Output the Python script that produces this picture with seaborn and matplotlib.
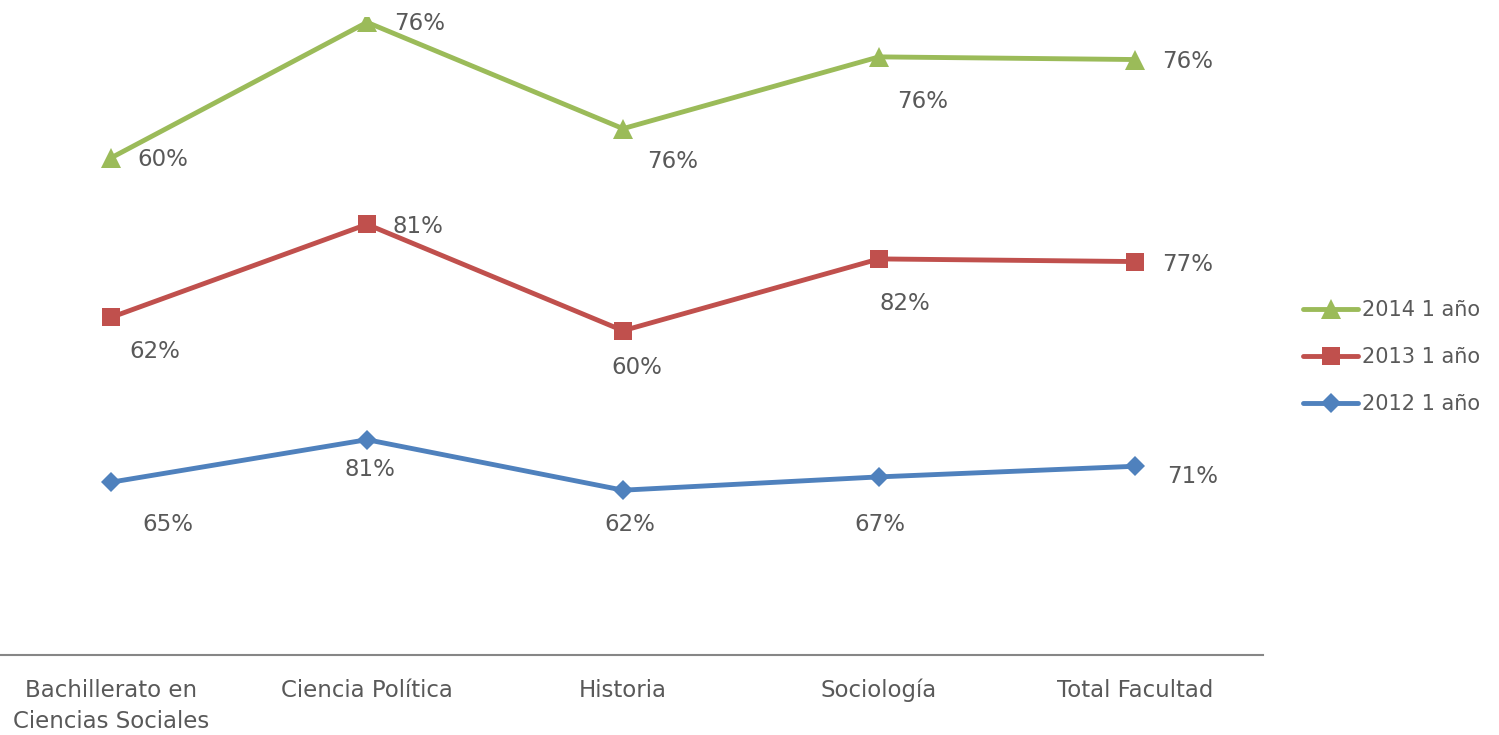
import numpy as np
import pandas as pd
import seaborn as sns
import matplotlib.pyplot as plt

categories = ["Bachillerato en\nCiencias Sociales", "Ciencia Política", "Historia",
              "Sociología", "Total Facultad"]
series_names = ["2012 1 año", "2013 1 año", "2014 1 año"]
values_2012 = [65, 81, 62, 67, 71]
values_2013 = [62, 81, 60, 82, 77]
values_2014 = [60, 76, 76, 76, 76]

colors = ["#4F81BD", "#C0504D", "#9BBB59"]
markers = ["D", "s", "^"]
msizes = [10, 13, 15]
# label offsets in pixels (dx, dy) relative to each marker
offsets = [
    [(57, -42), (3, -30), (7, -34), (1, -48), (58, -10)],
    [(44, -34), (51, -2), (14, -37), (26, -45), (53, -3)],
    [(52, -2), (53, -1), (50, -33), (44, -45), (53, -2)],
]

sns.set_theme(style="white")
plt.rcParams['font.family'] = ['DejaVu Sans']
text_color = "#595959"

raw = np.array([values_2012, values_2013, values_2014], dtype=float)
stacked = np.cumsum(raw, axis=0)

fig = plt.figure(figsize=(14.99, 7.35), dpi=100)
ax = fig.add_axes([-17 / 1499, 80 / 735, 1280 / 1499, 638 / 735])

x = np.arange(len(categories))
for i, name in enumerate(series_names):
    df = pd.DataFrame({"x": x, "y": stacked[i]})
    sns.lineplot(data=df, x="x", y="y", ax=ax, color=colors[i], linewidth=3.5,
                 marker=markers[i], markersize=msizes[i], markeredgewidth=0,
                 label=name)
    for j in range(len(categories)):
        ax.annotate(f"{int(raw[i, j])}%", (x[j], stacked[i, j]),
                    xytext=offsets[i][j], textcoords="offset pixels",
                    ha="center", va="center", fontsize=16.5, color=text_color)

ax.set_xlim(-0.5, 4.5)
ax.set_ylim(0, 240)
ax.set_xticks(x)
ax.set_xticklabels(categories, fontsize=16.5, color=text_color, linespacing=1.45)
ax.set_yticks([])
ax.set_xlabel("")
ax.set_ylabel("")
ax.tick_params(axis="x", length=0, pad=17)
for s in ["top", "right", "left"]:
    ax.spines[s].set_visible(False)
ax.spines["bottom"].set_color("#868686")
ax.spines["bottom"].set_linewidth(1.5)

h, l = ax.get_legend_handles_labels()
ax.get_legend().remove()
fig.legend(h[::-1], l[::-1], loc="center left", bbox_to_anchor=(1303 / 1499, 1 - 357 / 735),
           frameon=False, fontsize=15, labelcolor=text_color, handlelength=2.64,
           handletextpad=0.2, labelspacing=1.3, borderpad=0, borderaxespad=0)

fig.savefig("out.png", dpi=100)
